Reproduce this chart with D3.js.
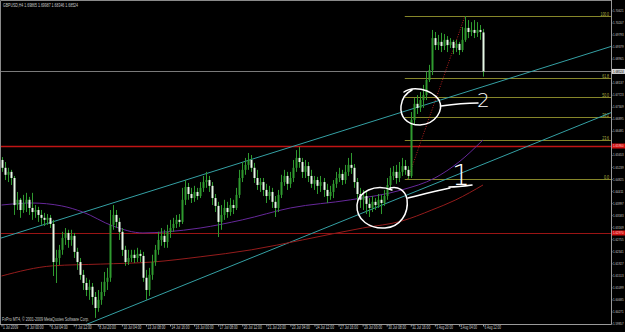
<!DOCTYPE html>
<html>
<head>
<meta charset="utf-8">
<script src="https://cdn.jsdelivr.net/npm/d3@7/dist/d3.min.js"></script>
<style>
  html, body { margin: 0; padding: 0; background: #000; }
  svg { display: block; }
</style>
</head>
<body>
<div id="chart"></div>
<script>
// GBPUSD H4, 1 Jul 2009 - 6 Aug 2009
var opens = [1.6548,1.6521,1.6497,1.6507,1.6486,1.6393,1.6411,1.6376,1.6400,1.6411,
  1.6383,1.6369,1.6376,1.6359,1.6349,1.6342,1.6349,1.6328,1.6197,1.6211,
  1.6239,1.6280,1.6297,1.6273,1.6287,1.6232,1.6197,1.6153,1.6125,1.6101,
  1.6112,1.6077,1.6039,1.6067,1.6094,1.6129,1.6143,1.6325,1.6359,1.6335,
  1.6301,1.6239,1.6197,1.6211,1.6222,1.6211,1.6225,1.6218,1.6143,1.6101,
  1.6153,1.6197,1.6239,1.6273,1.6287,1.6266,1.6301,1.6314,1.6328,1.6342,
  1.6335,1.6411,1.6455,1.6431,1.6417,1.6438,1.6424,1.6452,1.6472,1.6479,
  1.6459,1.6417,1.6390,1.6335,1.6359,1.6383,1.6369,1.6393,1.6383,1.6428,
  1.6486,1.6514,1.6531,1.6548,1.6521,1.6486,1.6462,1.6472,1.6445,1.6424,
  1.6438,1.6404,1.6383,1.6428,1.6472,1.6493,1.6466,1.6486,1.6521,1.6555,
  1.6541,1.6507,1.6527,1.6493,1.6466,1.6479,1.6459,1.6472,1.6445,1.6424,
  1.6438,1.6466,1.6486,1.6500,1.6479,1.6507,1.6531,1.6521,1.6472,1.6431,
  1.6411,1.6424,1.6397,1.6383,1.6404,1.6393,1.6411,1.6400,1.6424,1.6462,
  1.6493,1.6507,1.6486,1.6507,1.6527,1.6514,1.6493,1.6686,1.6741,1.6727,
  1.6754,1.6771,1.6823,1.6857,1.6967,1.6943,1.6954,1.6940,1.6961,1.6943,
  1.6954,1.6933,1.6947,1.6926,1.6961,1.7002,1.6988,1.6995,1.6985,1.6995,
  1.69865];
var highs = [1.6558,1.6541,1.6521,1.6514,1.6493,1.6438,1.6417,1.6428,1.6435,1.6421,
  1.6435,1.6393,1.6387,1.6376,1.6366,1.6362,1.6359,1.6342,1.6239,1.6256,
  1.6301,1.6314,1.6308,1.6308,1.6297,1.6246,1.6211,1.6170,1.6143,1.6136,
  1.6125,1.6094,1.6101,1.6129,1.6163,1.6177,1.6376,1.6393,1.6376,1.6349,
  1.6314,1.6253,1.6239,1.6239,1.6239,1.6246,1.6239,1.6232,1.6170,1.6177,
  1.6222,1.6256,1.6301,1.6314,1.6308,1.6325,1.6342,1.6349,1.6359,1.6362,
  1.6452,1.6479,1.6469,1.6452,1.6459,1.6452,1.6472,1.6493,1.6507,1.6493,
  1.6472,1.6431,1.6404,1.6393,1.6411,1.6404,1.6417,1.6411,1.6452,1.6514,
  1.6541,1.6555,1.6572,1.6565,1.6538,1.6514,1.6486,1.6486,1.6466,1.6459,
  1.6452,1.6424,1.6445,1.6497,1.6514,1.6507,1.6507,1.6548,1.6582,1.6593,
  1.6555,1.6548,1.6541,1.6514,1.6493,1.6490,1.6493,1.6486,1.6466,1.6459,
  1.6479,1.6507,1.6521,1.6514,1.6531,1.6555,1.6572,1.6534,1.6486,1.6452,
  1.6445,1.6438,1.6417,1.6424,1.6417,1.6431,1.6428,1.6445,1.6486,1.6521,
  1.6527,1.6531,1.6541,1.6555,1.6548,1.6527,1.6713,1.6761,1.6771,1.6782,
  1.6806,1.6851,1.6875,1.6995,1.6988,1.6978,1.6985,1.6981,1.6974,1.6967,
  1.6961,1.6961,1.6954,1.7005,1.7043,1.7029,1.7022,1.7029,1.7022,1.7012,
  1.69987];
var lows = [1.6507,1.6479,1.6472,1.6462,1.6359,1.6376,1.6349,1.6366,1.6369,1.6359,
  1.6342,1.6349,1.6335,1.6325,1.6321,1.6325,1.6314,1.6149,1.6125,1.6187,
  1.6222,1.6256,1.6246,1.6253,1.6211,1.6170,1.6136,1.6101,1.6080,1.6067,
  1.6050,1.6005,1.6026,1.6050,1.6080,1.6101,1.6129,1.6308,1.6314,1.6273,
  1.6218,1.6184,1.6187,1.6197,1.6194,1.6197,1.6197,1.6129,1.6067,1.6080,
  1.6136,1.6184,1.6222,1.6253,1.6246,1.6246,1.6280,1.6301,1.6314,1.6318,
  1.6328,1.6393,1.6411,1.6400,1.6404,1.6411,1.6417,1.6438,1.6452,1.6438,
  1.6393,1.6369,1.6283,1.6308,1.6342,1.6349,1.6356,1.6362,1.6376,1.6417,
  1.6472,1.6497,1.6514,1.6507,1.6469,1.6445,1.6438,1.6424,1.6400,1.6411,
  1.6383,1.6352,1.6369,1.6417,1.6459,1.6445,1.6452,1.6472,1.6507,1.6521,
  1.6486,1.6486,1.6472,1.6452,1.6445,1.6431,1.6438,1.6421,1.6400,1.6411,
  1.6417,1.6452,1.6472,1.6462,1.6466,1.6493,1.6500,1.6452,1.6411,1.6383,
  1.6376,1.6362,1.6352,1.6369,1.6376,1.6383,1.6362,1.6390,1.6411,1.6445,
  1.6479,1.6466,1.6472,1.6493,1.6497,1.6483,1.6486,1.6668,1.6706,1.6713,
  1.6727,1.6754,1.6816,1.6840,1.6926,1.6926,1.6919,1.6926,1.6919,1.6933,
  1.6912,1.6919,1.6909,1.6919,1.6954,1.6967,1.6974,1.6967,1.6971,1.6961,
  1.68346];
var closes = [1.6521,1.6497,1.6507,1.6486,1.6393,1.6411,1.6376,1.6400,1.6411,1.6383,
  1.6369,1.6376,1.6359,1.6349,1.6342,1.6349,1.6328,1.6197,1.6211,1.6239,
  1.6280,1.6297,1.6273,1.6287,1.6232,1.6197,1.6153,1.6125,1.6101,1.6112,
  1.6077,1.6039,1.6067,1.6094,1.6129,1.6143,1.6325,1.6359,1.6335,1.6301,
  1.6239,1.6197,1.6211,1.6222,1.6211,1.6225,1.6218,1.6143,1.6101,1.6153,
  1.6197,1.6239,1.6273,1.6287,1.6266,1.6301,1.6314,1.6328,1.6342,1.6335,
  1.6411,1.6455,1.6431,1.6417,1.6438,1.6424,1.6452,1.6472,1.6479,1.6459,
  1.6417,1.6390,1.6335,1.6359,1.6383,1.6369,1.6393,1.6383,1.6428,1.6486,
  1.6514,1.6531,1.6548,1.6521,1.6486,1.6462,1.6472,1.6445,1.6424,1.6438,
  1.6404,1.6383,1.6428,1.6472,1.6493,1.6466,1.6486,1.6521,1.6555,1.6541,
  1.6507,1.6527,1.6493,1.6466,1.6479,1.6459,1.6472,1.6445,1.6424,1.6438,
  1.6466,1.6486,1.6500,1.6479,1.6507,1.6531,1.6521,1.6472,1.6431,1.6411,
  1.6424,1.6397,1.6383,1.6404,1.6393,1.6411,1.6400,1.6424,1.6462,1.6493,
  1.6507,1.6486,1.6507,1.6527,1.6514,1.6493,1.6686,1.6741,1.6727,1.6754,
  1.6771,1.6823,1.6857,1.6967,1.6943,1.6954,1.6940,1.6961,1.6943,1.6954,
  1.6933,1.6947,1.6926,1.6961,1.7002,1.6988,1.6995,1.6985,1.6995,1.6988,
  1.68524];

// one label every 8 bars
var dateLabels = ["1 Jul 2009","3 Jul 00:00","6 Jul 04:00","7 Jul 12:00","8 Jul 20:00",
  "10 Jul 04:00","13 Jul 08:00","14 Jul 16:00","16 Jul 00:00","17 Jul 08:00",
  "20 Jul 12:00","21 Jul 20:00","23 Jul 04:00","24 Jul 12:00","27 Jul 16:00",
  "29 Jul 00:00","30 Jul 08:00","31 Jul 16:00","3 Aug 20:00","5 Aug 04:00","6 Aug 12:00"];

// price scale labels (the ones under the bid / red markers are not shown)
var priceTicks = [1.70621,1.70207,1.69793,1.69379,1.68965,1.68137,1.67723,1.67309,
  1.66895,1.66481,1.65653,1.65239,1.64825,1.64411,1.63997,1.63583,1.63169,1.62755,
  1.62341,1.61927,1.61513,1.61099,1.60685,1.60271,1.59857];

// moving averages, sampled [bar, price]
var maFast = [[0,1.6393],[10,1.6400],[20,1.6390],[27,1.6369],[37,1.6321],[47,1.6297],
  [55,1.6301],[66,1.6314],[80,1.6342],[96,1.6383],[116,1.6411],[133,1.6445],
  [144,1.6486],[152,1.6541],[160,1.6617]];
var maSlow = [[0,1.6149],[17,1.6184],[33,1.6190],[50,1.6197],[66,1.6215],[83,1.6239],
  [100,1.6273],[110,1.6294],[120,1.6314],[133,1.6338],[143,1.6376],[151,1.6411],[160,1.6462]];

// trend lines [bar, price] anchors
var channelUpper = [[0,1.6280],[80,1.6540]];
var channelLower = [[30,1.5990],[120,1.6366]];
var redLevels = [1.65960, 1.62970];
var bidPrice = 1.68524;

var fibLow = [135, 1.64828], fibHigh = [154, 1.70430];
var fibRatios = [0, 0.236, 0.382, 0.5, 0.618, 1];
var fibNames = ["0.0","23.6","38.2","50.0","61.8","100.0"];

var W = 625, H = 332, plotR = 611, plotB = 324;
var svg = d3.select("#chart").append("svg").attr("width", W).attr("height", H)
  .style("background", "#000").style("font-family", "Liberation Sans, Arial, sans-serif");

var x = d3.scaleLinear().domain([0, 160]).range([1.5, 483]);
var y = d3.scaleLinear().domain([1.5984, 1.7043]).range([plotB, 16]);

svg.append("clipPath").attr("id", "plot").append("rect")
  .attr("x", 0).attr("y", 0).attr("width", plotR).attr("height", plotB);
var g = svg.append("g").attr("clip-path", "url(#plot)");

// horizontal lines
g.append("line").attr("x1", 0).attr("x2", plotR)
  .attr("y1", Math.round(y(bidPrice)) + 0.5).attr("y2", Math.round(y(bidPrice)) + 0.5)
  .attr("stroke", "#7a7a7a");
g.selectAll(".redlvl").data(redLevels).enter().append("line")
  .attr("x1", 0).attr("x2", plotR)
  .attr("y1", function (d) { return Math.round(y(d)) + 0.5; })
  .attr("y2", function (d) { return Math.round(y(d)) + 0.5; })
  .attr("stroke", function (d, i) { return i == 0 ? "#c01414" : "#9a1414"; })
  .attr("stroke-width", function (d, i) { return i == 0 ? 1.5 : 1; });

// fibo
var fibX0 = x(fibLow[0]) - 3;
fibRatios.forEach(function (r, i) {
  var p = fibLow[1] + (fibHigh[1] - fibLow[1]) * r;
  var yy = Math.round(y(p)) + 0.5;
  g.append("line").attr("x1", fibX0).attr("x2", plotR).attr("y1", yy).attr("y2", yy)
    .attr("stroke", "#86862a");
  g.append("text").attr("x", 609).attr("y", yy - 1).attr("text-anchor", "end")
    .attr("font-size", 4.5).attr("fill", "#b0b040")
    .attr("textLength", fibNames[i].length * 1.7).attr("lengthAdjust", "spacingAndGlyphs")
    .text(fibNames[i]);
});
g.append("line")
  .attr("x1", x(fibLow[0])).attr("y1", y(fibLow[1]))
  .attr("x2", x(fibHigh[0])).attr("y2", y(fibHigh[1]))
  .attr("stroke", "#b82020").attr("stroke-dasharray", "1,1.5");

// rays
function ray(a, col) {
  var s = (y(a[1][1]) - y(a[0][1])) / (x(a[1][0]) - x(a[0][0]));
  var x0 = x(a[0][0]), y0 = y(a[0][1]);
  g.append("line").attr("x1", x0 - 400).attr("y1", y0 - 400 * s)
    .attr("x2", plotR).attr("y2", y0 + (plotR - x0) * s)
    .attr("stroke", col);
}
ray(channelUpper, "#34a0a4");
ray(channelLower, "#34a0a4");

// moving averages
var maLine = d3.line().curve(d3.curveMonotoneX)
  .x(function (d) { return x(d[0]); }).y(function (d) { return y(d[1]); });
g.append("path").attr("d", maLine(maFast)).attr("fill", "none").attr("stroke", "#66289a");
g.append("path").attr("d", maLine(maSlow)).attr("fill", "none").attr("stroke", "#941c1c");

// candles
var bars = d3.range(closes.length);
var cg = g.append("g");
cg.selectAll(".wick").data(bars).enter().append("line")
  .attr("x1", function (i) { return Math.round(x(i)) + 0.5; })
  .attr("x2", function (i) { return Math.round(x(i)) + 0.5; })
  .attr("y1", function (i) { return y(highs[i]); })
  .attr("y2", function (i) { return y(lows[i]); })
  .attr("stroke", "#2f9a2f");
cg.selectAll(".body").data(bars).enter().append("rect")
  .attr("x", function (i) { return Math.round(x(i)) - 0.5; })
  .attr("width", 2)
  .attr("y", function (i) { return y(Math.max(opens[i], closes[i])); })
  .attr("height", function (i) { return Math.max(1, Math.abs(y(opens[i]) - y(closes[i]))); })
  .attr("fill", function (i) { return closes[i] < opens[i] ? "#e6f8e6" : "#2f9a2f"; });

// hand-drawn notes
var notes = svg.append("g").attr("fill", "none").attr("stroke", "#fff")
  .attr("stroke-width", 1.5).attr("stroke-linecap", "round");
notes.append("path").attr("d",
  "M404,92 C412,86 430,88 439,100 C444,110 436,124 420,125 C406,125 400,116 401,106 C402,98 406,93 412,90");
notes.append("path").attr("d", "M441,106 C455,104 468,103 478,103");
notes.append("path").attr("d",
  "M392,190 C375,183 358,192 357,205 C356,220 370,229 385,228 C400,227 409,214 407,199 C405,190 398,186 390,188");
notes.append("path").attr("d", "M408,198 C420,195 435,191 450,188");
notes.append("path").attr("d", "M449,187 C456,187 465,186 472,185");
svg.append("text").attr("x", 477).attr("y", 107).attr("font-size", 20)
  .attr("fill", "#fff").attr("font-family", "DejaVu Sans").attr("font-weight", 200).text("2");
svg.append("text").attr("x", 452).attr("y", 185).attr("font-size", 28)
  .attr("fill", "#fff").attr("font-family", "DejaVu Sans").attr("font-weight", 200).text("1");

// axes
var yAxis = d3.axisRight(y).tickValues(priceTicks).tickSize(1)
  .tickFormat(function (d) { return d.toFixed(5); });
var ya = svg.append("g").attr("transform", "translate(" + (plotR + 0.5) + ",0)").call(yAxis);
ya.select(".domain").attr("stroke", "#9a9a9a").attr("d", "M0,0V" + (plotB + 0.5));
ya.selectAll("line").attr("stroke", "#9a9a9a");
ya.selectAll("text").attr("fill", "#c8c8c8").attr("font-size", 3.3).attr("x", 1.5)
  .attr("textLength", 10.5).attr("lengthAdjust", "spacingAndGlyphs");

var xAxis = d3.axisBottom(x).tickValues(d3.range(0, 161, 8)).tickSize(2)
  .tickFormat(function (d, i) { return dateLabels[i]; });
var xa = svg.append("g").attr("transform", "translate(0," + (plotB + 0.5) + ")").call(xAxis);
xa.select(".domain").attr("stroke", "#9a9a9a").attr("d", "M0,0H" + (plotR + 0.5));
xa.selectAll("line").attr("stroke", "#9a9a9a");
xa.selectAll("text").attr("fill", "#c8c8c8").attr("font-size", 4.5)
  .attr("text-anchor", "start").attr("x", 1).attr("y", 1.5).attr("dy", "0.71em")
  .attr("textLength", function (d, i) { return dateLabels[i].length * 1.5; })
  .attr("lengthAdjust", "spacingAndGlyphs");

// price markers on the axis
function marker(p, bg, fg) {
  var yy = y(p);
  svg.append("rect").attr("x", plotR + 1).attr("y", yy - 2.5).attr("width", 13).attr("height", 5).attr("fill", bg);
  svg.append("text").attr("x", plotR + 2).attr("y", yy + 1.2).attr("font-size", 3.3)
    .attr("textLength", 10.5).attr("lengthAdjust", "spacingAndGlyphs")
    .attr("fill", fg).text(p.toFixed(5));
}
marker(bidPrice, "#d8d8d8", "#000");
redLevels.forEach(function (p) { marker(p, "#d01010", "#ffd0d0"); });

// frame
svg.append("path").attr("d", "M0.5," + plotB + "V0.5H" + plotR).attr("stroke", "#8a8a8a").attr("fill", "none");

svg.append("text").attr("x", 3).attr("y", 6.5).attr("font-size", 4.5).attr("fill", "#c8c8c8")
  .attr("textLength", 75).attr("lengthAdjust", "spacingAndGlyphs")
  .text("GBPUSD,H4  1.69865 1.69987 1.68346 1.68524");
svg.append("text").attr("x", 2).attr("y", 321).attr("font-size", 4.5).attr("fill", "#c8c8c8")
  .attr("textLength", 87).attr("lengthAdjust", "spacingAndGlyphs")
  .text("FxPro MT4, \u00a9 2001-2009 MetaQuotes Software Corp.");
</script>
</body>
</html>
